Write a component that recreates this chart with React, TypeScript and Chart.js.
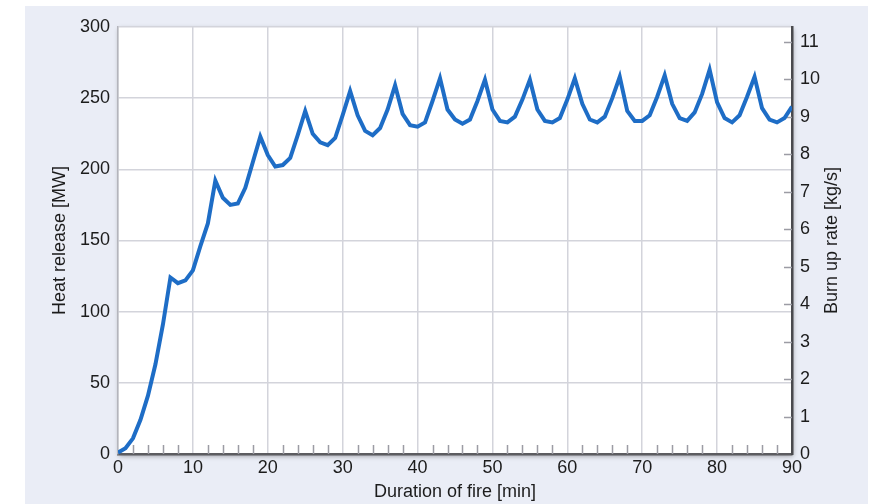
import React, { useEffect, useRef } from 'react';
import { Chart, registerables } from 'chart.js';

Chart.register(...registerables);

// Duration of fire [min]
const timeMin = [
  0, 1, 2, 3, 4, 5, 6, 7, 8, 9,
  10, 11, 12, 13, 14, 15, 16, 17, 18, 19,
  20, 21, 22, 23, 24, 25, 26, 27, 28, 29,
  30, 31, 32, 33, 34, 35, 36, 37, 38, 39,
  40, 41, 42, 43, 44, 45, 46, 47, 48, 49,
  50, 51, 52, 53, 54, 55, 56, 57, 58, 59,
  60, 61, 62, 63, 64, 65, 66, 67, 68, 69,
  70, 71, 72, 73, 74, 75, 76, 77, 78, 79,
  80, 81, 82, 83, 84, 85, 86, 87, 88, 89,
  90,
];

// Heat release [MW]
const heatReleaseMW = [
  1, 4, 11, 24, 41, 63, 91, 124, 120, 122,
  129, 146, 162, 192, 180, 175, 176, 187, 205, 223,
  210, 202, 203, 208, 224, 241, 225, 219, 217, 222,
  238, 255, 238, 227, 224, 229, 242, 259, 239, 231,
  230, 233, 248, 264, 242, 235, 232, 235, 248, 263,
  242, 234, 233, 237, 249, 263, 242, 234, 233, 236,
  249, 264, 246, 235, 233, 237, 250, 265, 241, 234,
  234, 238, 251, 266, 246, 236, 234, 240, 253, 270,
  247, 236, 233, 238, 251, 265, 243, 235, 233, 236,
  244,
];

const xRange = [0, 90];
const xStep = 10;
const xMinorStep = 2;
const leftRange = [0, 300];
const leftStep = 50;
const rightRange = [0, 11.4];
const rightStep = 1;

const xTitle = 'Duration of fire [min]';
const leftTitle = 'Heat release [MW]';
const rightTitle = 'Burn up rate [kg/s]';

const FONT = "'Liberation Sans', Arial, Helvetica, sans-serif";
const TEXT = '#1c1c1c';
const GRID = '#d3d4db';
const LINE = '#1e6dc6';

const decor = {
  id: 'decor',
  beforeDraw(chart: any) {
    const { ctx, chartArea: a, width, height } = chart;
    ctx.save();
    ctx.fillStyle = '#ffffff';
    ctx.fillRect(0, 0, width, height);
    ctx.fillStyle = '#eaedf6';
    ctx.fillRect(25, 6, 843, height - 6);
    ctx.shadowColor = 'rgba(0,0,0,0.35)';
    ctx.shadowBlur = 5;
    ctx.shadowOffsetX = 1;
    ctx.shadowOffsetY = 2;
    ctx.fillStyle = '#ffffff';
    ctx.fillRect(a.left, a.top, a.right - a.left, a.bottom - a.top);
    ctx.restore();
  },
  beforeDatasetsDraw(chart: any) {
    const { ctx, chartArea: a } = chart;
    const xs = chart.scales.x;
    const y2 = chart.scales.y2;
    ctx.save();
    ctx.strokeStyle = '#9c9ca4';
    ctx.lineWidth = 1.5;
    ctx.beginPath();
    for (let m = xs.min; m <= xs.max; m += xMinorStep) {
      if (m % xStep === 0) continue;
      const px = Math.round(xs.getPixelForValue(m)) + 0.5;
      ctx.moveTo(px, a.bottom);
      ctx.lineTo(px, a.bottom - 9);
    }
    y2.ticks.forEach((t: any) => {
      if (t.value === 0) return;
      const py = Math.round(y2.getPixelForValue(t.value)) + 0.5;
      ctx.moveTo(a.right, py);
      ctx.lineTo(a.right - 8, py);
    });
    ctx.stroke();
    ctx.restore();
  },
  afterDraw(chart: any) {
    const { ctx, chartArea: a } = chart;
    ctx.save();
    ctx.fillStyle = TEXT;
    ctx.font = `18px ${FONT}`;
    ctx.textAlign = 'center';
    ctx.textBaseline = 'middle';
    ctx.translate(832, (a.top + a.bottom) / 2);
    ctx.rotate(-Math.PI / 2);
    ctx.fillText(rightTitle, 0, 0);
    ctx.restore();
  },
};

export default function App() {
  const ref = useRef<HTMLCanvasElement | null>(null);

  useEffect(() => {
    if (!ref.current) return;
    const chart = new Chart(ref.current, {
      type: 'line',
      data: {
        datasets: [
          {
            label: leftTitle,
            data: timeMin.map((t, i) => ({ x: t, y: heatReleaseMW[i] })),
            borderColor: LINE,
            borderWidth: 4,
            pointRadius: 0,
            tension: 0,
            fill: false,
            yAxisID: 'y',
          },
        ],
      },
      options: {
        animation: false,
        responsive: false,
        layout: { padding: { top: 27, left: 0, right: 0, bottom: 0 } },
        plugins: {
          legend: { display: false },
          tooltip: { enabled: false },
        },
        scales: {
          x: {
            type: 'linear',
            position: 'bottom',
            min: xRange[0],
            max: xRange[1],
            ticks: {
              stepSize: xStep,
              color: TEXT,
              font: { family: FONT, size: 18 },
              padding: 3,
              maxRotation: 0,
            },
            grid: { color: GRID, lineWidth: 1.5, drawTicks: false },
            border: { display: true, color: '#5c5c60', width: 2.5 },
            title: {
              display: true,
              text: xTitle,
              color: TEXT,
              font: { family: FONT, size: 18 },
              padding: { top: 0, bottom: 1 },
            },
            afterFit: (s: any) => {
              s.height = 50;
            },
          },
          y: {
            type: 'linear',
            position: 'left',
            min: leftRange[0],
            max: leftRange[1],
            ticks: {
              stepSize: leftStep,
              color: TEXT,
              font: { family: FONT, size: 18 },
              padding: 8,
            },
            grid: { color: GRID, lineWidth: 1.5, drawTicks: false },
            border: { display: true, color: '#b4b5bc', width: 1.5 },
            title: {
              display: true,
              text: leftTitle,
              color: TEXT,
              font: { family: FONT, size: 18 },
              padding: { top: 49, bottom: 0 },
            },
            afterFit: (s: any) => {
              s.width = 118;
            },
          },
          y2: {
            type: 'linear',
            position: 'right',
            min: rightRange[0],
            max: rightRange[1],
            ticks: {
              stepSize: rightStep,
              includeBounds: false,
              color: TEXT,
              font: { family: FONT, size: 18 },
              padding: 8,
            },
            grid: { display: false, drawTicks: false },
            border: { display: true, color: '#4a4a4e', width: 2.5 },
            afterFit: (s: any) => {
              s.width = 86;
            },
          },
        },
      },
      plugins: [decor],
    });
    return () => chart.destroy();
  }, []);

  return (
    <div style={{ position: 'absolute', left: 0, top: 0, width: 878, height: 504 }}>
      <canvas ref={ref} width={878} height={504} style={{ display: 'block' }} />
    </div>
  );
}
